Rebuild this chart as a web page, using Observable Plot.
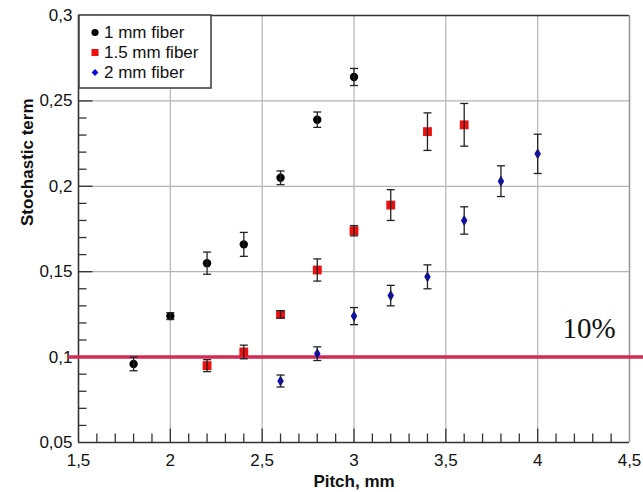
<!DOCTYPE html>
<html>
<head>
<meta charset="utf-8">
<script src="https://cdn.jsdelivr.net/npm/d3@7"></script>
<script src="https://cdn.jsdelivr.net/npm/@observablehq/plot@0.6"></script>
<style>
  html, body { margin: 0; padding: 0; background: #fff; }
  #chart { width: 643px; height: 492px; }
</style>
</head>
<body>
<div id="chart"></div>
<script>
// ---- data ----
const seriesNames = ["1 mm fiber", "1.5 mm fiber", "2 mm fiber"];

const pitch1 = [1.8, 2.0, 2.2, 2.4, 2.6, 2.8, 3.0];
const stoch1 = [0.096, 0.124, 0.155, 0.166, 0.205, 0.239, 0.264];
const err1   = [0.004, 0.002, 0.0065, 0.007, 0.004, 0.0045, 0.005];

const pitch15 = [2.2, 2.4, 2.6, 2.8, 3.0, 3.2, 3.4, 3.6];
const stoch15 = [0.095, 0.103, 0.125, 0.151, 0.174, 0.189, 0.232, 0.236];
const err15   = [0.0035, 0.004, 0.0022, 0.0065, 0.003, 0.009, 0.011, 0.0125];

const pitch2 = [2.6, 2.8, 3.0, 3.2, 3.4, 3.6, 3.8, 4.0];
const stoch2 = [0.086, 0.102, 0.124, 0.136, 0.147, 0.180, 0.203, 0.219];
const err2   = [0.0035, 0.004, 0.005, 0.006, 0.007, 0.008, 0.009, 0.0115];

const xTicks = [1.5, 2, 2.5, 3, 3.5, 4, 4.5];
const yTicks = [0.05, 0.1, 0.15, 0.2, 0.25, 0.3];
const xMinorTicks = d3.range(16, 45).map(d => d / 10).filter(d => Math.abs(d * 2 - Math.round(d * 2)) > 1e-9);
const yMinorTicks = d3.range(6, 30).map(d => d / 100).filter(d => Math.abs(d * 20 - Math.round(d * 20)) > 1e-9);

const thresholdValue = [0.1];
const annotations = [{x: 4.28, y: 0.111, text: "10%"}];

// ---- build table ----
function rows(px, py, pe, name) {
  return px.map((x, i) => ({x, y: py[i], e: pe[i], series: name}));
}
const data1 = rows(pitch1, stoch1, err1, seriesNames[0]);
const data15 = rows(pitch15, stoch15, err15, seriesNames[1]);
const data2 = rows(pitch2, stoch2, err2, seriesNames[2]);
const allData = [...data1, ...data15, ...data2];

const fmt = d => String(d).replace(".", ",");

// custom symbols
const capSymbol = {draw(ctx) { ctx.moveTo(-4, 0); ctx.lineTo(4, 0); }};
const tickRight = len => ({draw(ctx) { ctx.moveTo(0, 0); ctx.lineTo(len, 0); }});
const tickUp = len => ({draw(ctx) { ctx.moveTo(0, 0); ctx.lineTo(0, -len); }});

const FONT = "'Liberation Sans', Arial, Helvetica, sans-serif";
const DARK = "#333";
const RED = "#ee1010";
const BLUE = "#0a0ad8";
const LINE = "#d42a55";
const FS = 17;

const chart = Plot.plot({
  width: 643,
  height: 492,
  marginLeft: 78,
  marginRight: 14,
  marginTop: 15,
  marginBottom: 50,
  style: {fontFamily: FONT, fontSize: FS + "px", color: "#111", background: "#fff"},
  x: {domain: [1.5, 4.5], ticks: xTicks, tickFormat: fmt, label: null},
  y: {domain: [0.05, 0.3], ticks: yTicks, tickFormat: fmt, label: null},
  marks: [
    // grid
    Plot.gridX(xTicks.slice(1, -1), {stroke: "#b4b4b4", strokeOpacity: 1, strokeWidth: 1.2}),
    Plot.gridY(yTicks.slice(1, -1), {stroke: "#b4b4b4", strokeOpacity: 1, strokeWidth: 1.2}),
    // frame
    Plot.ruleY([0.3], {stroke: DARK, strokeWidth: 1.6}),
    Plot.ruleY([0.05], {stroke: DARK, strokeWidth: 1.6}),
    Plot.ruleX([1.5], {stroke: DARK, strokeWidth: 1.6}),
    Plot.ruleX([4.5], {stroke: "#999", strokeWidth: 1.6}),
    // inside ticks
    Plot.dot(yMinorTicks, {y: d => d, frameAnchor: "left", symbol: tickRight(8), stroke: DARK, strokeWidth: 1.3, r: 4}),
    Plot.dot(yTicks.slice(1, -1), {y: d => d, frameAnchor: "left", symbol: tickRight(14), stroke: DARK, strokeWidth: 1.3, r: 4}),
    Plot.dot(xMinorTicks, {x: d => d, frameAnchor: "bottom", symbol: tickUp(9), stroke: DARK, strokeWidth: 1.3, r: 4}),
    Plot.dot(xTicks.slice(1, -1), {x: d => d, frameAnchor: "bottom", symbol: tickUp(14), stroke: DARK, strokeWidth: 1.3, r: 4}),
    // axes labels
    Plot.axisX({ticks: xTicks, tickFormat: fmt, tickSize: 0, tickPadding: 11, label: null, fontSize: FS}),
    Plot.axisY({ticks: yTicks, tickFormat: fmt, tickSize: 0, tickPadding: 6, label: null, fontSize: FS}),
    Plot.text(["Pitch, mm"], {frameAnchor: "bottom", dy: 44, fontWeight: "bold", fontSize: FS}),
    Plot.text(["Stochastic term"], {frameAnchor: "left", dx: -51, dy: -3, rotate: -90, fontWeight: "bold", fontSize: FS}),
    // 10% threshold
    Plot.ruleY(thresholdValue, {stroke: LINE, strokeWidth: 3.5, insetLeft: -10, insetRight: -14}),
    Plot.text(annotations, {x: "x", y: "y", text: "text", fontFamily: "'Liberation Serif', 'DejaVu Serif', serif", fontSize: 29, lineAnchor: "bottom", fill: "#111"}),
    // points
    Plot.dot(data1, {x: "x", y: "y", symbol: "circle", r: 4.2, fill: "#000", stroke: "none"}),
    Plot.dot(data15, {x: "x", y: "y", symbol: "square", r: 5, fill: RED, stroke: "none"}),
    Plot.dot(data2, {x: "x", y: "y", symbol: "diamond", r: 3.4, fill: BLUE, stroke: "none"}),
    // error bars (drawn over the markers, as in the reference)
    Plot.link(allData, {x1: "x", x2: "x", y1: d => d.y - d.e, y2: d => d.y + d.e, stroke: "#222", strokeWidth: 1.3}),
    Plot.dot(allData, {x: "x", y: d => d.y - d.e, symbol: capSymbol, stroke: "#222", strokeWidth: 1.3, r: 4}),
    Plot.dot(allData, {x: "x", y: d => d.y + d.e, symbol: capSymbol, stroke: "#222", strokeWidth: 1.3, r: 4})
  ]
});

// ---- legend inside plot (top-left) ----
const svg = d3.select(chart);
const lg = svg.append("g").attr("transform", "translate(79,15)");
lg.append("rect").attr("x", 0).attr("y", 0).attr("width", 132).attr("height", 73)
  .attr("fill", "#fff").attr("stroke", "#444").attr("stroke-width", 1.6);
const legendSymbols = [d3.symbolCircle, d3.symbolSquare, d3.symbolDiamond2];
const legendColors = ["#000", RED, BLUE];
const legendSizes = [40, 50, 30];
seriesNames.forEach((name, i) => {
  const cy = 17.5 + i * 20;
  lg.append("path").attr("transform", `translate(16,${cy})`)
    .attr("d", d3.symbol(legendSymbols[i], legendSizes[i])())
    .attr("fill", legendColors[i]);
  lg.append("text").attr("x", 25).attr("y", cy).attr("dy", "0.35em")
    .attr("text-anchor", "start")
    .attr("font-family", FONT).attr("font-size", FS).attr("fill", "#111").text(name);
});

document.getElementById("chart").appendChild(chart);
</script>
</body>
</html>
